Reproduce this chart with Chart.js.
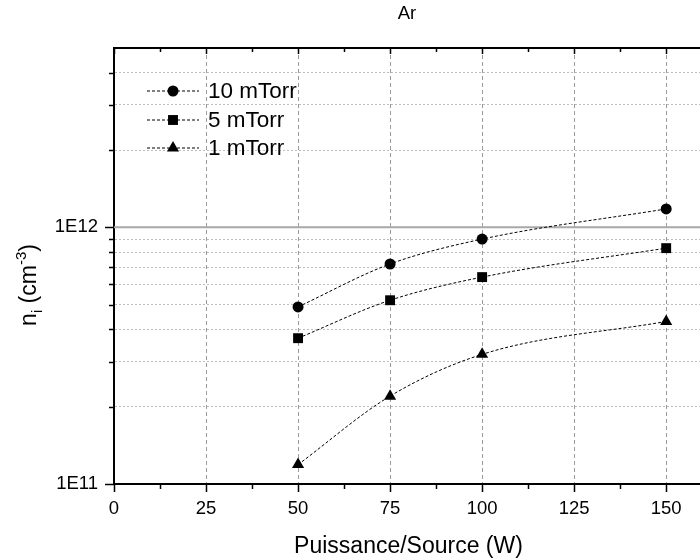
<!DOCTYPE html>
<html>
<head>
<meta charset="utf-8">
<script src="https://cdn.jsdelivr.net/npm/chart.js@4"></script>
<style>
  html, body { margin: 0; padding: 0; background: #fff; overflow: hidden; }
  #wrap { width: 700px; height: 560px; overflow: hidden; }
</style>
</head>
<body>
<div id="wrap"><canvas id="myChart" width="710" height="560"></canvas></div>
<script>
// data
const power = [50, 75, 100, 150];           // Puissance/Source (W)
const n10mTorr = [4.9e11, 7.2e11, 9.0e11, 1.18e12];
const n5mTorr = [3.7e11, 5.2e11, 6.4e11, 8.3e11];
const n1mTorr = [1.19e11, 2.2e11, 3.2e11, 4.3e11];
const seriesLabels = ['10 mTorr', '5 mTorr', '1 mTorr'];
const pointShapes = ['circle', 'rect', 'triangle'];
const pointSizes = [5.5, 7, 7];
const yTicks = [1e11, 2e11, 3e11, 4e11, 5e11, 6e11, 7e11, 8e11, 9e11, 1e12, 2e12, 3e12, 4e12, 5e12];
const yLabels = { '1e+11': '1E11', '1e+12': '1E12' };

const FONT = "'Liberation Sans', Arial, sans-serif";
const isNear = (a, b) => Math.abs(a - b) < b * 1e-6;

function makeDataset(i, values) {
  return {
    label: seriesLabels[i],
    data: power.map((p, k) => ({ x: p, y: values[k] })),
    borderColor: '#000',
    backgroundColor: '#000',
    borderWidth: 1,
    borderDash: [3, 2],
    cubicInterpolationMode: 'monotone',
    pointStyle: pointShapes[i],
    pointRadius: pointSizes[i],
    pointHoverRadius: pointSizes[i],
    pointBorderWidth: 0
  };
}

// extra drawing: title, y title with sub/superscripts, legend, 1E12 line, tick marks
const extras = {
  id: 'extras',
  beforeDatasetsDraw(chart) {
    const { ctx, chartArea } = chart;
    const y = chart.scales.y.getPixelForValue(1e12);
    ctx.save();
    ctx.strokeStyle = '#a8a8a8';
    ctx.lineWidth = 2;
    ctx.beginPath();
    ctx.moveTo(chartArea.left, y);
    ctx.lineTo(chartArea.right, y);
    ctx.stroke();
    ctx.restore();
  },
  afterDraw(chart) {
    const { ctx, chartArea } = chart;
    const xs = chart.scales.x, ys = chart.scales.y;
    ctx.save();
    ctx.strokeStyle = '#000';
    ctx.lineWidth = 2;
    // top frame
    ctx.beginPath();
    ctx.moveTo(chartArea.left - 1, chartArea.top);
    ctx.lineTo(chartArea.right, chartArea.top);
    ctx.stroke();
    ctx.lineWidth = 1.5;
    // x tick marks
    xs.ticks.forEach(t => {
      const px = Math.round(xs.getPixelForValue(t.value)) + 0.5;
      const major = t.value % 25 === 0;
      ctx.beginPath();
      ctx.moveTo(px, chartArea.bottom);
      ctx.lineTo(px, chartArea.bottom + (major ? 8 : 5));
      ctx.moveTo(px, chartArea.top);
      ctx.lineTo(px, chartArea.top + (major ? 6 : 4));
      ctx.stroke();
    });
    // y tick marks
    ys.ticks.forEach(t => {
      if (isNear(t.value, 5e12)) return;
      const py = Math.round(ys.getPixelForValue(t.value)) + 0.5;
      const major = isNear(t.value, 1e11) || isNear(t.value, 1e12);
      ctx.beginPath();
      ctx.moveTo(chartArea.left, py);
      ctx.lineTo(chartArea.left - (major ? 9 : 5), py);
      ctx.stroke();
    });

    // title
    ctx.fillStyle = '#000';
    ctx.font = '18.5px ' + FONT;
    ctx.textAlign = 'center';
    ctx.textBaseline = 'middle';
    ctx.fillText('Ar', 407, 14);

    // y axis title: n_i (cm^-3)
    const parts = [
      { t: 'n', size: 23, dy: 0 },
      { t: 'i', size: 15, dy: 6 },
      { t: ' (cm', size: 23, dy: 0 },
      { t: '-3', size: 15, dy: -10 },
      { t: ')', size: 23, dy: 0 }
    ];
    let total = 0;
    parts.forEach(p => { ctx.font = p.size + 'px ' + FONT; p.w = ctx.measureText(p.t).width; total += p.w; });
    ctx.save();
    ctx.translate(36, 285);
    ctx.rotate(-Math.PI / 2);
    ctx.textAlign = 'left';
    ctx.textBaseline = 'alphabetic';
    let cx = -total / 2;
    parts.forEach(p => {
      ctx.font = p.size + 'px ' + FONT;
      ctx.fillText(p.t, cx, p.dy);
      cx += p.w;
    });
    ctx.restore();

    // legend
    const rows = [91, 120, 148];
    chart.data.datasets.forEach((ds, i) => {
      const ly = rows[i];
      ctx.save();
      ctx.strokeStyle = '#000';
      ctx.lineWidth = 1;
      ctx.setLineDash([3, 2]);
      ctx.beginPath();
      ctx.moveTo(147, ly);
      ctx.lineTo(199, ly);
      ctx.stroke();
      ctx.restore();
      ctx.fillStyle = '#000';
      ctx.strokeStyle = '#000';
      Chart.helpers.drawPoint(ctx, { pointStyle: ds.pointStyle, radius: ds.pointRadius, rotation: 0, borderWidth: 0 }, 173, ly);
      ctx.fillStyle = '#000';
      ctx.font = '22.5px ' + FONT;
      ctx.textAlign = 'left';
      ctx.textBaseline = 'middle';
      ctx.fillText(ds.label, 208, ly + 1);
    });
    ctx.restore();
  }
};

const ctx = document.getElementById('myChart').getContext('2d');
const myChart = new Chart(ctx, {
  type: 'line',
  data: {
    datasets: [
      makeDataset(0, n10mTorr),
      makeDataset(1, n5mTorr),
      makeDataset(2, n1mTorr)
    ]
  },
  options: {
    responsive: false,
    animation: false,
    devicePixelRatio: 1,
    layout: { padding: { top: 48, left: 0, right: 0, bottom: 0 } },
    plugins: {
      legend: { display: false },
      tooltip: { enabled: false },
      title: { display: false }
    },
    scales: {
      x: {
        type: 'linear',
        min: 0,
        max: 160,
        afterFit: s => { s.height = 76; },
        ticks: {
          stepSize: 12.5,
          includeBounds: false,
          autoSkip: false,
          maxRotation: 0,
          padding: 14,
          color: '#000',
          font: { family: FONT, size: 18.5 },
          callback: v => (v % 25 === 0 && v <= 150 ? String(v) : '')
        },
        grid: {
          drawTicks: false,
          lineWidth: 1,
          color: c => (c.tick && c.tick.value % 25 === 0 && c.tick.value > 0 ? '#9a9a9a' : 'rgba(0,0,0,0)')
        },
        border: { display: true, color: '#000', width: 2, dash: [4, 3] },
        title: {
          display: true,
          text: 'Puissance/Source (W)',
          color: '#000',
          font: { family: FONT, size: 23 },
          padding: { top: 0, bottom: 0 }
        }
      },
      y: {
        type: 'logarithmic',
        min: 1e11,
        max: 5e12,
        afterFit: s => { s.width = 114; },
        afterBuildTicks: s => { s.ticks = yTicks.map(v => ({ value: v })); },
        ticks: {
          autoSkip: false,
          padding: 16,
          color: '#000',
          font: { family: FONT, size: 18.5 },
          callback: v => yLabels[Number(v).toExponential().replace(/\.0+e/, 'e')] || ''
        },
        grid: {
          drawTicks: false,
          lineWidth: 1,
          color: c => {
            const v = c.tick ? c.tick.value : 0;
            if (isNear(v, 1e11) || isNear(v, 1e12) || isNear(v, 5e12)) return 'rgba(0,0,0,0)';
            return '#bdbdbd';
          }
        },
        border: { display: true, color: '#000', width: 2, dash: [2, 2] }
      }
    }
  },
  plugins: [extras]
});
</script>
</body>
</html>
